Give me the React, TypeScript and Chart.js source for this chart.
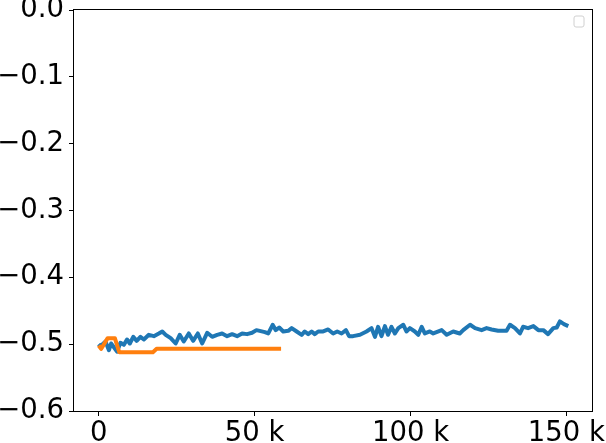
import React, { useEffect, useRef } from 'react';
import { Chart, registerables } from 'chart.js';

Chart.register(...registerables);

// Blue series: x in thousands, y values
const blueX = [
  0, 0.6, 2.2, 3.3, 4.0, 5.9, 7.0, 8.1, 9.1, 10.0,
  11.1, 12.2, 13.4, 14.5, 16.1, 17.7, 19.3, 20.4, 21.5, 23.1,
  24.7, 26.0, 27.3, 28.9, 30.3, 31.8, 33.2, 34.8, 36.4, 38.0,
  39.6, 41.2, 42.8, 44.4, 46.0, 47.6, 49.2, 50.6, 53.3, 54.4,
  55.8, 56.8, 57.9, 59.2, 60.8, 61.9, 63.5, 65.1, 66.1, 67.2,
  68.3, 69.3, 70.4, 72.0, 73.6, 75.2, 76.5, 77.9, 79.3, 80.3,
  81.6, 83.8, 85.9, 87.5, 88.6, 89.6, 90.7, 91.8, 92.8, 93.9,
  95.0, 96.1, 97.7, 98.7, 99.8, 101.4, 102.5, 103.6, 104.6, 106.2,
  107.3, 110.0, 111.6, 113.7, 115.8, 116.9, 119.1, 120.7, 122.8, 124.4,
  126.0, 128.1, 130.8, 131.9, 133.5, 135.1, 136.1, 137.7, 139.4, 141.0,
  142.6, 144.1, 145.8, 146.9, 147.9, 149.2, 150.6,
];
const blueY = [
  -0.500, -0.503, -0.496, -0.509, -0.499, -0.511, -0.498, -0.501, -0.493, -0.499,
  -0.489, -0.495, -0.489, -0.493, -0.486, -0.488, -0.484, -0.481, -0.486, -0.491,
  -0.499, -0.486, -0.496, -0.484, -0.495, -0.484, -0.499, -0.483, -0.489, -0.486,
  -0.484, -0.488, -0.485, -0.488, -0.484, -0.485, -0.483, -0.479, -0.482, -0.484,
  -0.471, -0.479, -0.475, -0.481, -0.480, -0.476, -0.481, -0.486, -0.481, -0.485,
  -0.481, -0.485, -0.481, -0.481, -0.478, -0.484, -0.481, -0.484, -0.479, -0.488,
  -0.488, -0.486, -0.481, -0.476, -0.489, -0.474, -0.488, -0.473, -0.486, -0.474,
  -0.484, -0.476, -0.471, -0.481, -0.476, -0.481, -0.486, -0.474, -0.484, -0.481,
  -0.484, -0.479, -0.486, -0.481, -0.484, -0.479, -0.471, -0.476, -0.479, -0.476,
  -0.478, -0.480, -0.480, -0.471, -0.476, -0.484, -0.474, -0.476, -0.473, -0.479,
  -0.479, -0.485, -0.476, -0.475, -0.466, -0.470, -0.473,
];

// Orange series: x in thousands, y values
const orangeX = [0, 0.8, 2.9, 5.2, 6.6, 17.4, 18.6, 58.5];
const orangeY = [-0.502, -0.507, -0.491, -0.491, -0.512, -0.512, -0.507, -0.507];

const xTickValues = [0, 50000, 100000, 150000];
const xTickLabels = ['0', '50 k', '100 k', '150 k'];
const yTickValues = [-0.6, -0.5, -0.4, -0.3, -0.2, -0.1, 0.0];

const FONT = 'DejaVu Sans';

export default function App() {
  const ref = useRef<HTMLCanvasElement>(null);

  useEffect(() => {
    if (!ref.current) return;
    const framePlugin = {
      id: 'frame',
      afterDraw(chart: any) {
        const { ctx, chartArea } = chart;
        const { left, top, right, bottom } = chartArea;
        ctx.save();
        ctx.strokeStyle = '#000';
        ctx.lineWidth = 1;
        ctx.strokeRect(Math.round(left) - 0.5, Math.round(top) - 0.5, Math.round(right - left) + 1, Math.round(bottom - top) + 1);
        // empty legend box
        const lx = right - 18, ly = top + 6, lw = 10, lh = 11, r = 2;
        ctx.beginPath();
        ctx.moveTo(lx + r, ly);
        ctx.lineTo(lx + lw - r, ly);
        ctx.quadraticCurveTo(lx + lw, ly, lx + lw, ly + r);
        ctx.lineTo(lx + lw, ly + lh - r);
        ctx.quadraticCurveTo(lx + lw, ly + lh, lx + lw - r, ly + lh);
        ctx.lineTo(lx + r, ly + lh);
        ctx.quadraticCurveTo(lx, ly + lh, lx, ly + lh - r);
        ctx.lineTo(lx, ly + r);
        ctx.quadraticCurveTo(lx, ly, lx + r, ly);
        ctx.closePath();
        ctx.fillStyle = 'rgba(255,255,255,0.8)';
        ctx.fill();
        ctx.strokeStyle = '#d0d0d0';
        ctx.stroke();
        ctx.restore();
      },
    };

    const chart = new Chart(ref.current, {
      type: 'line',
      data: {
        datasets: [
          {
            label: 'orange',
            data: orangeX.map((x, i) => ({ x: x * 1000, y: orangeY[i] })),
            borderColor: '#ff7f0e',
            backgroundColor: '#ff7f0e',
            borderWidth: 4,
            pointRadius: 0,
            tension: 0,
            fill: false,
            borderJoinStyle: 'round',
          },
          {
            label: 'blue',
            data: blueX.map((x, i) => ({ x: x * 1000, y: blueY[i] })),
            borderColor: '#1f77b4',
            backgroundColor: '#1f77b4',
            borderWidth: 4,
            pointRadius: 0,
            tension: 0,
            fill: false,
            borderJoinStyle: 'round',
          },
        ],
      },
      options: {
        responsive: false,
        animation: false,
        events: [],
        layout: { padding: { top: 10, right: 14, left: 0, bottom: 0 } },
        plugins: { legend: { display: false }, tooltip: { enabled: false } },
        scales: {
          x: {
            type: 'linear',
            min: -7900,
            max: 158200,
            afterBuildTicks: (s: any) => {
              s.ticks = xTickValues.map((v) => ({ value: v }));
            },
            ticks: {
              callback: (v: any) => {
                const i = xTickValues.indexOf(Number(v));
                return i >= 0 ? xTickLabels[i] : '';
              },
              font: { size: 27.5, family: FONT },
              color: '#000',
              padding: 1,
              maxRotation: 0,
              autoSkip: false,
            },
            grid: {
              drawOnChartArea: false,
              drawTicks: true,
              tickLength: 5,
              tickColor: '#000',
              color: '#000',
            },
            border: { display: false },
            afterFit: (s: any) => {
              s.height = 32;
              s.paddingLeft = 0;
              s.paddingRight = 0;
            },
          },
          y: {
            type: 'linear',
            min: -0.6,
            max: 0,
            afterBuildTicks: (s: any) => {
              s.ticks = yTickValues.map((v) => ({ value: v }));
            },
            ticks: {
              callback: (v: any) => Number(v).toFixed(1).replace('-', '\u2212'),
              font: { size: 27.5, family: FONT },
              color: '#000',
              padding: 5,
              autoSkip: false,
            },
            grid: {
              drawOnChartArea: false,
              drawTicks: true,
              tickLength: 5,
              tickColor: '#000',
              color: '#000',
            },
            border: { display: false },
            afterFit: (s: any) => {
              s.width = 74;
              s.paddingTop = 0;
              s.paddingBottom = 0;
            },
          },
        },
      } as any,
      plugins: [framePlugin],
    });
    return () => chart.destroy();
  }, []);

  return (
    <canvas
      ref={ref}
      width={606}
      height={443}
      style={{ position: 'fixed', left: 0, top: 0, width: 606, height: 443, background: '#fff' }}
    />
  );
}
